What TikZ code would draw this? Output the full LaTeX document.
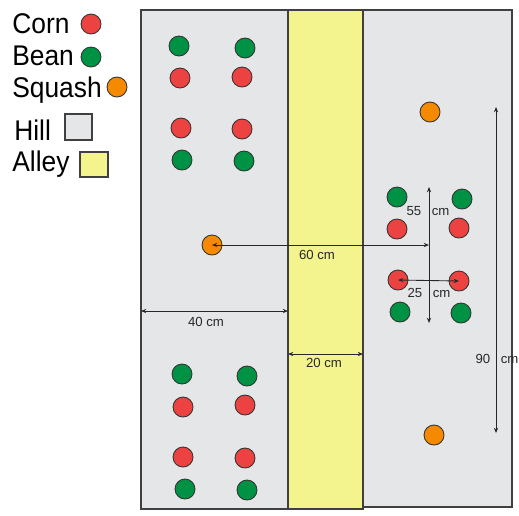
\documentclass[tikz,border=0pt]{standalone}
\usepackage{fontspec}
\setmainfont{Liberation Sans}
\usetikzlibrary{arrows.meta,positioning}
\definecolor{cornred}{RGB}{236,66,66}
\definecolor{beangreen}{RGB}{0,146,68}
\definecolor{squashorange}{RGB}{245,138,0}
\definecolor{hillgray}{RGB}{229,230,232}
\definecolor{alleyyellow}{RGB}{244,244,142}
\definecolor{dimgray}{RGB}{40,40,40}

\begin{document}
\begin{tikzpicture}[
    x=0.02cm, y=-0.02cm,
    plant/.style={circle, draw=black!80, line width=0.5pt, inner sep=0pt, minimum size=0.4cm},
    corn/.style={plant, fill=cornred},
    bean/.style={plant, fill=beangreen},
    squash/.style={plant, fill=squashorange},
    bed/.style={draw=black!75, line width=0.6pt},
    legendtxt/.style={anchor=base west, inner sep=0pt, yscale=1.08, transform shape,
                      font=\fontsize{15pt}{18pt}\selectfont},
    dimtxt/.style={inner sep=0pt, text=dimgray, font=\fontsize{7.5pt}{9pt}\selectfont},
    dim/.style={{Stealth[length=3pt,width=2.4pt]}-{Stealth[length=3pt,width=2.4pt]}, draw=dimgray, line width=0.5pt}
]
\useasboundingbox (0,0) rectangle (519,515);

% Legend
\node[legendtxt] (lcorn) at (12,33) {Corn};
\node[legendtxt] (lbean) at (12,65) {Bean};
\node[legendtxt] (lsquash) at (12,97) {Squash};
\node[legendtxt] (lhill) at (14,140) {Hill};
\node[legendtxt] (lalley) at (12,171) {Alley};
\node[corn] (kcorn) at (91,24) {};
\node[bean] (kbean) at (91,57) {};
\node[squash] (ksquash) at (117,87) {};
\draw[bed, fill=hillgray] (65,114) rectangle (92,140);
\draw[bed, fill=alleyyellow] (80,152) rectangle (108,177);

% Beds
\draw[bed, fill=hillgray] (141,10) rectangle (288,509);
\draw[bed, fill=alleyyellow] (288,10) rectangle (363,509);
\draw[bed, fill=hillgray] (363,10) rectangle (512,507);

% Left hill, top
\node[bean] (b1) at (179,46) {};
\node[bean] (b2) at (245,48) {};
\node[corn] (c1) at (180,78) {};
\node[corn] (c2) at (242,77) {};
\node[corn] (c3) at (181,128) {};
\node[corn] (c4) at (242,129) {};
\node[bean] (b3) at (182,160) {};
\node[bean] (b4) at (244,161) {};
\node[squash] (s1) at (212,245) {};

% Left hill, bottom
\node[bean] (b5) at (182,374) {};
\node[bean] (b6) at (247,376) {};
\node[corn] (c5) at (183,407) {};
\node[corn] (c6) at (245,405) {};
\node[corn] (c7) at (183,457) {};
\node[corn] (c8) at (245,458) {};
\node[bean] (b7) at (185,489) {};
\node[bean] (b8) at (247,490) {};

% Right hill
\node[squash] (s2) at (430,112) {};
\node[squash] (s3) at (434,435) {};
\node[bean] (b9) at (397,197) {};
\node[bean] (b10) at (462,199) {};
\node[corn] (c9) at (397,229) {};
\node[corn] (c10) at (459,228) {};
\node[corn] (c11) at (398,280) {};
\node[corn] (c12) at (459,281) {};
\node[bean] (b11) at (400,312) {};
\node[bean] (b12) at (461,313) {};

% Dimensions
\coordinate (p60) at (429,245);
\coordinate (t55) at (429,187);
\coordinate (u55) at (429,323);
\coordinate (l40) at (141,311);
\coordinate (r40) at (288,311);
\coordinate (l20) at (288,354);
\coordinate (r20) at (363,354);
\coordinate (t90) at (496,107);
\coordinate (u90) at (496,433);

\draw[dim] (s1.center) -- (p60);
\draw[dim] (t55) -- (u55);
\draw[dim] (c11.center) -- (c12.center);
\draw[dim] (l40) -- (r40);
\draw[dim] (l20) -- (r20);
\draw[dim] (t90) -- (u90);

\node[dimtxt] (n60) at (317,255) {60 cm};
\node[dimtxt] (n55) at (428,211) {55\hspace{6pt}cm};
\node[dimtxt] (n25) at (429,293) {25\hspace{6pt}cm};
\node[dimtxt] (n40) at (206,322) {40 cm};
\node[dimtxt] (n20) at (324,363) {20 cm};
\node[dimtxt] (n90) at (497,359) {90\hspace{6pt}cm};

\end{tikzpicture}
\end{document}
